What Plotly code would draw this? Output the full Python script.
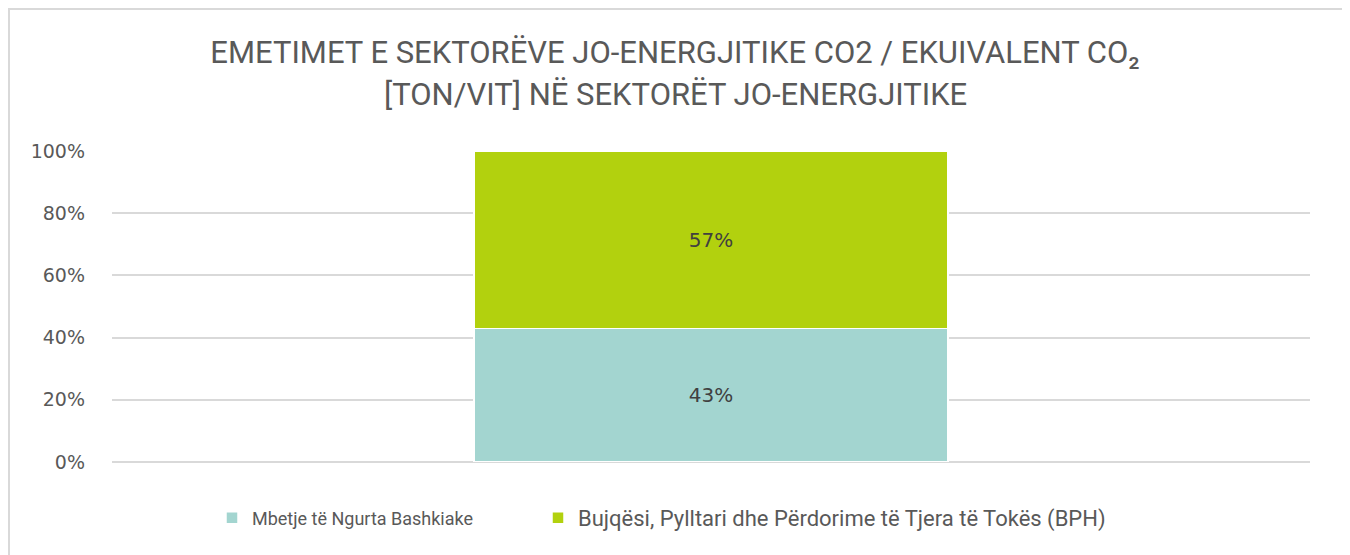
import plotly.graph_objects as go

categories = [""]
series_names = ["Mbetje të Ngurta Bashkiake", "Bujqësi, Pylltari dhe Përdorime të Tjera të Tokës (BPH)"]
mbetje = [0.43]
bujqesi = [0.57]
tick_vals = [0, 0.2, 0.4, 0.6, 0.8, 1.0]
tick_text = ["0%", "20%", "40%", "60%", "80%", "100%"]

title_line1 = "EMETIMET E SEKTORËVE JO-ENERGJITIKE CO2 / EKUIVALENT CO₂"
title_line2 = "[TON/VIT] NË SEKTORËT JO-ENERGJITIKE"

# page has an 8px body margin; work in page coordinates and convert
OFF = 8
W, H = 1350 - OFF, 555 - OFF
L, T = 112 - OFF, 151 - OFF
R = W - (1310 - OFF)
B = H - (462 - OFF)
pw, ph = W - L - R, H - T - B


def px_x(page_x):
    return (page_x - OFF - L) / pw


def px_y(page_y):
    return (H - B - (page_y - OFF)) / ph


fig = go.Figure()
fig.add_trace(go.Bar(
    x=categories, y=mbetje, name=series_names[0],
    marker=dict(color="#A3D5D0", line=dict(color="white", width=1.5)),
    texttemplate="%{y:.0%}", textposition="inside", insidetextanchor="middle",
    textfont=dict(color="#404040", size=20, family="DejaVu Sans"),
    legend="legend",
))
fig.add_trace(go.Bar(
    x=categories, y=bujqesi, name=series_names[1],
    marker=dict(color="#B2D10E", line=dict(color="white", width=1.5)),
    texttemplate="%{y:.0%}", textposition="inside", insidetextanchor="middle",
    textfont=dict(color="#404040", size=20, family="DejaVu Sans"),
    legend="legend2",
))

title_font = dict(family="Roboto", size=31, color="#595959")

fig.update_layout(
    width=W, height=H,
    margin=dict(l=L, r=R, t=T, b=B, autoexpand=False),
    paper_bgcolor="white", plot_bgcolor="white",
    barmode="stack", bargap=0.604,
    title=dict(text=title_line1, x=(675 - OFF) / W, xanchor="center", xref="container",
               y=1 - (52 - OFF) / H, yanchor="middle", font=title_font),
    annotations=[dict(text=title_line2, xref="paper", yref="paper",
                      x=px_x(675), y=px_y(94), xanchor="center", yanchor="middle",
                      showarrow=False, font=title_font)],
    font=dict(family="DejaVu Sans", color="#595959"),
    xaxis=dict(showticklabels=False, showgrid=False, zeroline=False, showline=False, ticks=""),
    yaxis=dict(range=[0, 1.0], tickvals=tick_vals, ticktext=tick_text,
               showgrid=True, gridcolor="#D9D9D9", gridwidth=2,
               zeroline=True, zerolinecolor="#D9D9D9", zerolinewidth=2,
               showline=False, ticks="", ticklabelstandoff=26,
               tickfont=dict(size=19, color="#595959", family="DejaVu Sans")),
    legend=dict(orientation="h", x=px_x(212), y=px_y(518), xanchor="left", yanchor="middle",
                font=dict(size=18, family="Roboto", color="#595959"),
                itemwidth=30, bgcolor="rgba(0,0,0,0)"),
    legend2=dict(orientation="h", x=px_x(538), y=px_y(518), xanchor="left", yanchor="middle",
                 font=dict(size=22, family="Roboto", color="#595959"),
                 itemwidth=30, bgcolor="rgba(0,0,0,0)"),
    showlegend=True,
    shapes=[dict(type="rect", xref="paper", yref="paper",
                 x0=px_x(OFF + 1), x1=px_x(1344), y0=px_y(600), y1=px_y(OFF + 1),
                 line=dict(color="#D9D9D9", width=2), fillcolor="rgba(0,0,0,0)", layer="below")],
)

fig.write_html("out.html")
